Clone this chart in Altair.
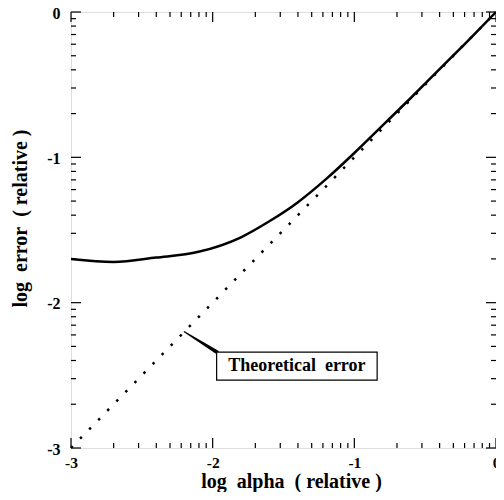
import math
import altair as alt
import pandas as pd

# ---- data ----
alpha_log = [-3.0, -2.7, -2.4, -2.1, -1.8, -1.6, -1.4, -1.2, -1.0, -0.8, -0.6, -0.4, -0.2, 0.0]
error_log = [-1.70, -1.72, -1.69, -1.65, -1.55, -1.44, -1.31, -1.15, -0.97, -0.78, -0.59, -0.395, -0.20, 0.0]

theory_x = [-3.0, 0.0]
theory_y = [-3.0, 0.0]

major_ticks = [-3, -2, -1, 0]
decades = [-3, -2, -1]
minor_ticks = [d + math.log10(k) for d in decades for k in range(2, 10)]

# annotation
leader_x = [-2.2, -1.97]
leader_y = [-2.2, -2.34]
leader_w = [0.3, 3.5]
box_x = [-1.972, -0.839]
box_y = [-2.340, -2.533]
label_text = "Theoretical\u00a0\u00a0error"

x_title = "log\u00a0\u00a0alpha\u00a0\u00a0(\u00a0relative\u00a0)"
y_title = "log\u00a0\u00a0error\u00a0\u00a0(\u00a0relative\u00a0)"

W, H = 425, 436
FONT = "Liberation Serif"

xs = alt.Scale(domain=[-3, 0], nice=False, zero=False)
ys = alt.Scale(domain=[-3, 0], nice=False, zero=False)

df = pd.DataFrame({"x": alpha_log, "y": error_log})
dth = pd.DataFrame({"x": theory_x, "y": theory_y})

axis_common = dict(
    values=major_ticks, ticks=False, domain=False, grid=False,
    labelFont=FONT, labelFontWeight="bold", labelColor="black",
    labelExpr="'' + datum.value", labelFlush=False, labelOverlap=False,
    titleFont=FONT, titleFontWeight="bold", titleColor="black",
)

curve = alt.Chart(df).mark_line(color="black", strokeWidth=2.5, interpolate="monotone").encode(
    x=alt.X("x:Q", scale=xs, axis=alt.Axis(title=x_title, labelPadding=7, labelFontSize=15.5,
                                           titleFontSize=20,
                                           titleBaseline="alphabetic", titleAlign="center",
                                           titleX=220, titleY=39.5, **axis_common)),
    y=alt.Y("y:Q", scale=ys, axis=alt.Axis(title=y_title, labelPadding=11, labelFontSize=16,
                                           titleFontSize=20,
                                           labelOffset=1, titleBaseline="middle", titleX=-51,
                                           titleY=206, titleAngle=270, **axis_common)),
)

theory = alt.Chart(dth).mark_line(color="black", strokeWidth=2.5, strokeDash=[2.5, 10.5]).encode(
    x=alt.X("x:Q", scale=xs), y=alt.Y("y:Q", scale=ys)
)

def tick_layers(vals, length):
    d = pd.DataFrame({"v": vals})
    base = alt.Chart(d).mark_rule(color="black", strokeWidth=1.2)
    bottom = base.encode(x=alt.X("v:Q", scale=xs), y=alt.value(H), y2=alt.value(H - length))
    top = base.encode(x=alt.X("v:Q", scale=xs), y=alt.value(0), y2=alt.value(length))
    left = base.encode(y=alt.Y("v:Q", scale=ys), x=alt.value(0), x2=alt.value(length))
    right = base.encode(y=alt.Y("v:Q", scale=ys), x=alt.value(W), x2=alt.value(W - length))
    return [bottom, top, left, right]

ticks = tick_layers(major_ticks, 10) + tick_layers(minor_ticks, 5)

leader = alt.Chart(pd.DataFrame({"x": leader_x, "y": leader_y, "w": leader_w})).mark_trail(color="black").encode(
    x=alt.X("x:Q", scale=xs), y=alt.Y("y:Q", scale=ys),
    size=alt.Size("w:Q", scale=alt.Scale(type="identity"), legend=None),
)

box = alt.Chart(pd.DataFrame({"x": [box_x[0]], "x2": [box_x[1]], "y": [box_y[0]], "y2": [box_y[1]]})).mark_rect(
    fill="white", stroke="black", strokeWidth=1.2
).encode(x=alt.X("x:Q", scale=xs), x2="x2:Q", y=alt.Y("y:Q", scale=ys), y2="y2:Q")

label = alt.Chart(pd.DataFrame({"x": [(box_x[0] + box_x[1]) / 2], "y": [(box_y[0] + box_y[1]) / 2], "t": [label_text]})).mark_text(
    font=FONT, fontWeight="bold", fontSize=18, color="black", baseline="middle", align="center"
).encode(x=alt.X("x:Q", scale=xs), y=alt.Y("y:Q", scale=ys), text="t:N")

chart = alt.layer(*ticks, theory, curve, leader, box, label).properties(
    width=W, height=H,
    autosize=alt.AutoSizeParams(type="none"),
    padding={"left": 63, "top": 4, "right": 0, "bottom": 44},
).configure_view(stroke="black", strokeWidth=1.5).configure(background="white")

chart.save("out.html", embed_options={"renderer": "svg", "actions": False})
